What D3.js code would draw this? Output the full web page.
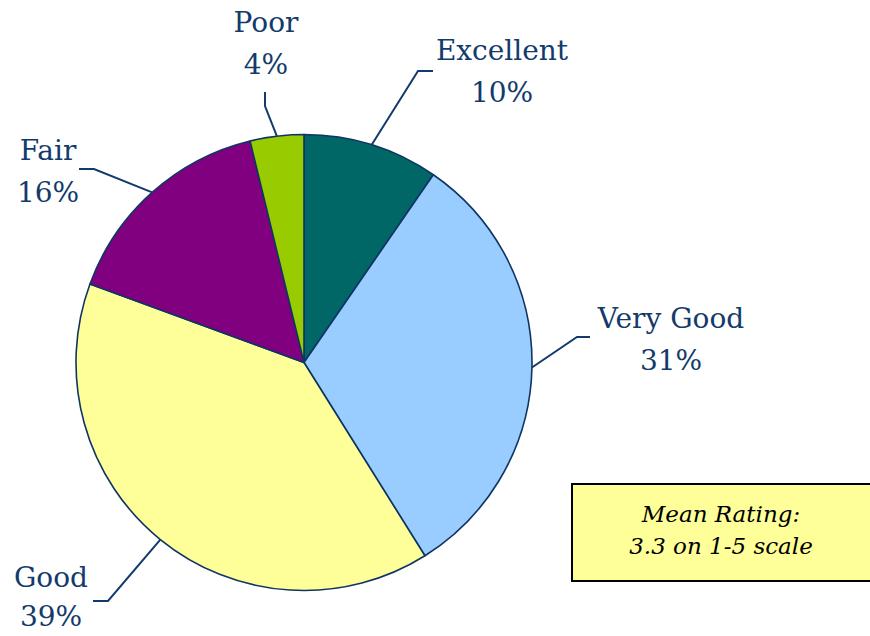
<!DOCTYPE html>
<html>
<head>
<meta charset="utf-8">
<script src="https://cdn.jsdelivr.net/npm/d3@7/dist/d3.min.js"></script>
<style>
  html, body { margin: 0; padding: 0; background: #fff; }
  svg { display: block; }
</style>
</head>
<body>
<svg id="chart" width="870" height="636"></svg>
<script>
// ---- data ----
const categories = ["Excellent", "Very Good", "Good", "Fair", "Poor"];
const values = [9.6, 31.5, 39.5, 15.6, 3.8];
const percentLabels = ["10%", "31%", "39%", "16%", "4%"];
const colors = ["#006666", "#99CCFF", "#FFFF99", "#800080", "#99CC00"];
const noteLines = ["Mean Rating:", "3.3 on 1-5 scale"];

// ---- layout ----
const W = 870, H = 636;
const cx = 304, cy = 362.5, R = 228;
const textColor = "#123B6B";
const lineColor = "#123B6B";
const labelFont = "'DejaVu Serif', 'Liberation Serif', serif";

const labelLayout = {
  "Excellent": { elbow: [418, 71], tail: [433, 71], text: [502, 60], gap: 42 },
  "Very Good": { elbow: [577, 337], tail: [590, 337], text: [671, 328], gap: 42 },
  "Good":      { elbow: [108, 601], tail: [93, 601], text: [51, 587], gap: 39 },
  "Fair":      { elbow: [94, 169], tail: [79, 169], text: [48, 160], gap: 42 },
  "Poor":      { elbow: [265, 106], tail: [265, 92], text: [266, 32], gap: 42 }
};

const svg = d3.select("#chart");
const data = categories.map((c, i) => ({ category: c, value: values[i], label: percentLabels[i], color: colors[i] }));

const pie = d3.pie().sort(null).value(d => d.value);
const arcs = pie(data);
const arc = d3.arc().innerRadius(0).outerRadius(R);

const g = svg.append("g").attr("transform", `translate(${cx},${cy})`);
g.selectAll("path.slice")
  .data(arcs)
  .join("path")
  .attr("class", "slice")
  .attr("d", arc)
  .attr("fill", d => d.data.color)
  .attr("stroke", "#0F3563")
  .attr("stroke-width", 1.6)
  .attr("stroke-linejoin", "round");

arcs.forEach(a => {
  const mid = (a.startAngle + a.endAngle) / 2;
  const px = cx + R * Math.sin(mid);
  const py = cy - R * Math.cos(mid);
  const L = labelLayout[a.data.category];
  svg.append("polyline")
    .attr("points", [[px, py], L.elbow, L.tail].map(p => p.join(",")).join(" "))
    .attr("fill", "none")
    .attr("stroke", lineColor)
    .attr("stroke-width", 2);
  const t = svg.append("text")
    .attr("x", L.text[0])
    .attr("y", L.text[1])
    .attr("text-anchor", "middle")
    .attr("fill", textColor)
    .style("font-family", labelFont)
    .style("font-size", "28px");
  t.append("tspan").attr("x", L.text[0]).attr("dy", 0).text(a.data.category);
  t.append("tspan").attr("x", L.text[0]).attr("dy", L.gap).text(a.data.label);
});

// note box
const box = svg.append("g");
box.append("rect")
  .attr("x", 572).attr("y", 484)
  .attr("width", 300).attr("height", 97)
  .attr("fill", "#FFFF99")
  .attr("stroke", "#000")
  .attr("stroke-width", 2);
box.append("text")
  .attr("text-anchor", "middle")
  .attr("fill", "#000")
  .style("font-family", labelFont)
  .style("font-style", "italic")
  .style("font-size", "23px")
  .selectAll("tspan")
  .data(noteLines)
  .join("tspan")
  .attr("x", 721)
  .attr("y", (d, i) => 522 + i * 32)
  .text(d => d);
</script>
</body>
</html>
